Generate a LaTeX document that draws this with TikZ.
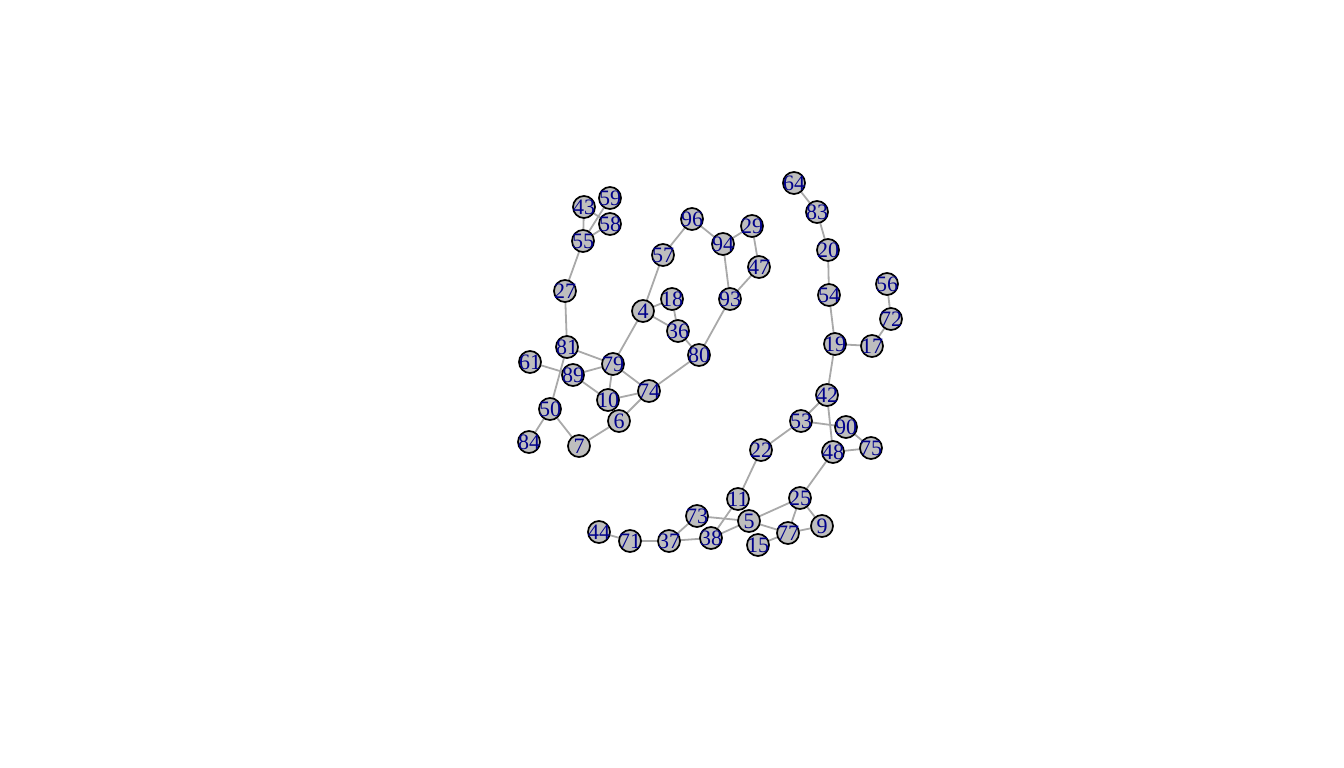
\documentclass[tikz,border=0pt]{standalone}
\usepackage{fontspec}
\setmainfont{Liberation Serif}
\usetikzlibrary{backgrounds}
\definecolor{edgegray}{HTML}{A9A9A9}
\definecolor{vfill}{HTML}{BEBEBE}
\definecolor{labblue}{HTML}{00008B}
\tikzset{
  vtx/.style={circle, draw=black, line width=1.7pt, fill=vfill, minimum size=22pt, inner sep=0pt},
  vlab/.style={text=labblue, font=\fontsize{22}{22}\selectfont, inner sep=0pt},
  edg/.style={draw=edgegray, line width=1.8pt}
}
\begin{document}
\begin{tikzpicture}[x=1pt,y=-1pt]
\useasboundingbox (0,0) rectangle (1344,768);
\foreach \n/\x/\y in {43/584/207,59/610/198,58/610/224,55/583/241,27/565/291,81/567/347,61/530/362,89/573/375,79/613/364,10/608/400,74/649/391,6/619/421,50/550/409,84/529/442,7/579/446,4/643/311,18/672/299,36/678/331,80/699/355,57/663/255,96/692/219,94/723/244,29/752/226,47/759/267,93/730/299,64/794/183,83/817/212,20/828/250,54/829/295,19/835/344,17/872/346,72/891/319,56/887/284,42/827/395,53/801/421,90/846/427,75/871/448,48/833/452,22/761/450,25/800/498,11/738/499,5/749/521,9/822/526,77/788/533,15/758/545,73/697/516,38/711/538,37/669/541,71/630/541,44/599/532}
  {\node[vtx, label={[vlab]center:\n}] (n\n) at (\x,\y) {};}
\begin{scope}[on background layer]
\foreach \a/\b in {43/55,43/58,55/59,55/58,55/27,27/81,81/79,81/50,61/89,89/79,89/10,79/10,79/74,79/4,10/74,74/6,6/7,7/50,50/84,74/80,4/57,57/96,96/94,94/29,29/47,47/93,94/93,93/80,4/18,4/36,18/36,36/80,64/83,83/20,20/54,54/19,19/17,17/72,72/56,19/42,42/53,42/48,53/90,90/75,48/75,53/22,48/25,22/11,25/5,25/77,25/9,9/77,77/5,77/15,11/38,5/73,5/38,73/37,37/38,37/71,71/44}
  {\draw[edg] (n\a.center) -- (n\b.center);}
\end{scope}
\end{tikzpicture}
\end{document}
